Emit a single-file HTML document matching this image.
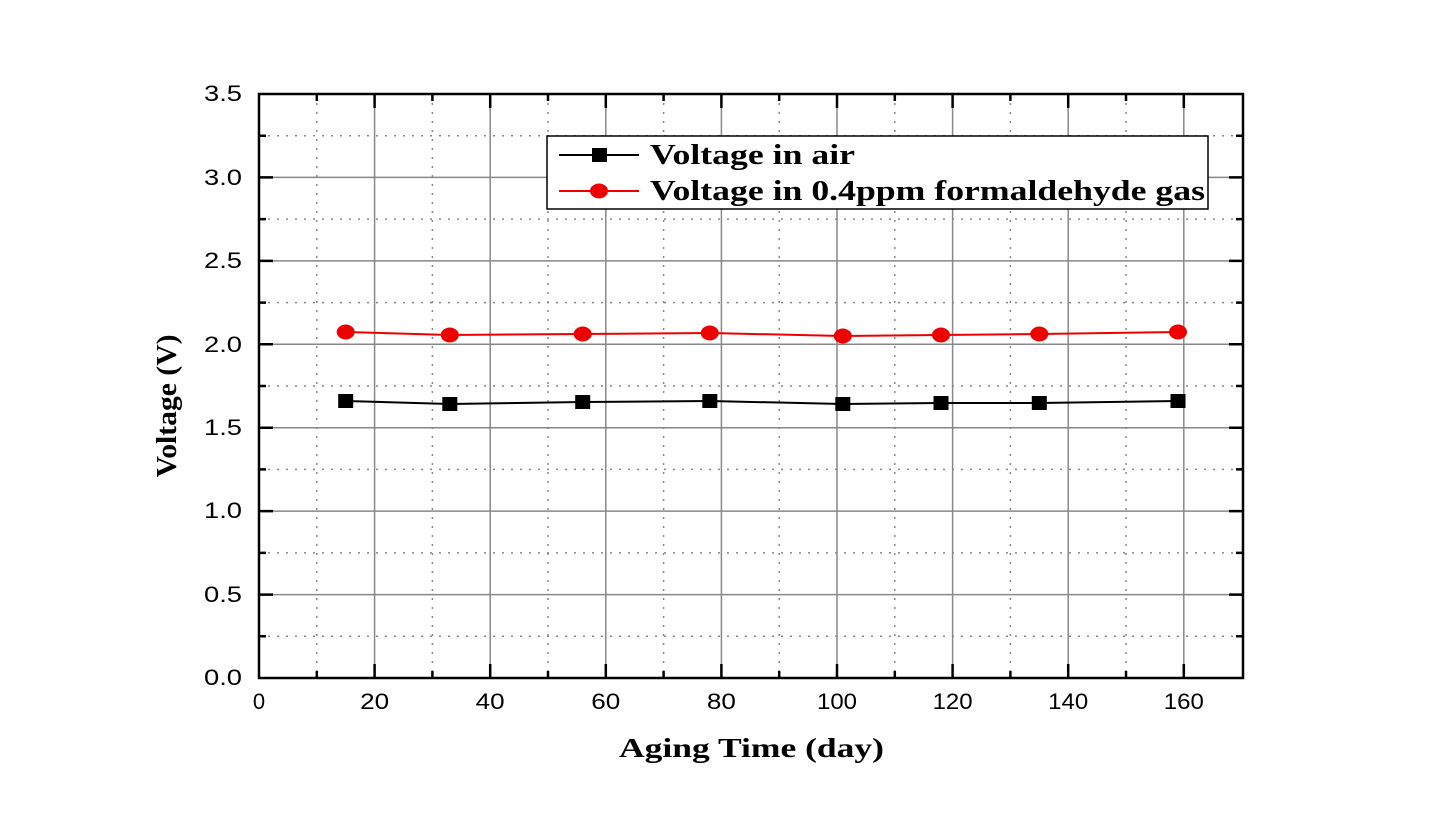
<!DOCTYPE html>
<html><head><meta charset="utf-8"><style>body{margin:0;background:#fff}</style></head><body>
<svg width="1444" height="814" xmlns="http://www.w3.org/2000/svg" font-family="Liberation Sans, sans-serif">
<rect width="1444" height="814" fill="#fff"/>
<g stroke="#888" stroke-width="1.5" stroke-dasharray="2,7">
<line x1="316.8" y1="94" x2="316.8" y2="678"/><line x1="432.4" y1="94" x2="432.4" y2="678"/><line x1="548" y1="94" x2="548" y2="678"/><line x1="663.6" y1="94" x2="663.6" y2="678"/><line x1="779.2" y1="94" x2="779.2" y2="678"/><line x1="894.8" y1="94" x2="894.8" y2="678"/><line x1="1010.4" y1="94" x2="1010.4" y2="678"/><line x1="1126" y1="94" x2="1126" y2="678"/>
<line x1="259" y1="636.3" x2="1243" y2="636.3"/><line x1="259" y1="552.9" x2="1243" y2="552.9"/><line x1="259" y1="469.4" x2="1243" y2="469.4"/><line x1="259" y1="386" x2="1243" y2="386"/><line x1="259" y1="302.6" x2="1243" y2="302.6"/><line x1="259" y1="219.1" x2="1243" y2="219.1"/><line x1="259" y1="135.7" x2="1243" y2="135.7"/>
</g>
<g stroke="#888" stroke-width="1.5">
<line x1="374.6" y1="94" x2="374.6" y2="678"/><line x1="490.2" y1="94" x2="490.2" y2="678"/><line x1="605.8" y1="94" x2="605.8" y2="678"/><line x1="721.4" y1="94" x2="721.4" y2="678"/><line x1="837" y1="94" x2="837" y2="678"/><line x1="952.6" y1="94" x2="952.6" y2="678"/><line x1="1068.2" y1="94" x2="1068.2" y2="678"/><line x1="1183.8" y1="94" x2="1183.8" y2="678"/>
<line x1="259" y1="594.6" x2="1243" y2="594.6"/><line x1="259" y1="511.1" x2="1243" y2="511.1"/><line x1="259" y1="427.7" x2="1243" y2="427.7"/><line x1="259" y1="344.3" x2="1243" y2="344.3"/><line x1="259" y1="260.9" x2="1243" y2="260.9"/><line x1="259" y1="177.4" x2="1243" y2="177.4"/>
</g>
<rect x="259" y="94" width="984" height="584" fill="none" stroke="#000" stroke-width="2.5"/>
<g stroke="#000" stroke-width="2.5">
<path d="M374.6 678v-14M490.2 678v-14M605.8 678v-14M721.4 678v-14M837 678v-14M952.6 678v-14M1068.2 678v-14M1183.8 678v-14
M374.6 94v14M490.2 94v14M605.8 94v14M721.4 94v14M837 94v14M952.6 94v14M1068.2 94v14M1183.8 94v14
M316.8 678v-7M432.4 678v-7M548 678v-7M663.6 678v-7M779.2 678v-7M894.8 678v-7M1010.4 678v-7M1126 678v-7
M316.8 94v7M432.4 94v7M548 94v7M663.6 94v7M779.2 94v7M894.8 94v7M1010.4 94v7M1126 94v7
M259 594.6h14M259 511.1h14M259 427.7h14M259 344.3h14M259 260.9h14M259 177.4h14
M1243 594.6h-14M1243 511.1h-14M1243 427.7h-14M1243 344.3h-14M1243 260.9h-14M1243 177.4h-14
M259 636.3h7M259 552.9h7M259 469.4h7M259 386h7M259 302.6h7M259 219.1h7M259 135.7h7
M1243 636.3h-7M1243 552.9h-7M1243 469.4h-7M1243 386h-7M1243 302.6h-7M1243 219.1h-7M1243 135.7h-7"/>
</g>
<g font-size="22" text-anchor="end">
<text x="242" y="685" textLength="38" lengthAdjust="spacingAndGlyphs">0.0</text><text x="242" y="602" textLength="38" lengthAdjust="spacingAndGlyphs">0.5</text><text x="242" y="518" textLength="38" lengthAdjust="spacingAndGlyphs">1.0</text><text x="242" y="435" textLength="38" lengthAdjust="spacingAndGlyphs">1.5</text><text x="242" y="352" textLength="38" lengthAdjust="spacingAndGlyphs">2.0</text><text x="242" y="268" textLength="38" lengthAdjust="spacingAndGlyphs">2.5</text><text x="242" y="185" textLength="38" lengthAdjust="spacingAndGlyphs">3.0</text><text x="242" y="101" textLength="38" lengthAdjust="spacingAndGlyphs">3.5</text>
</g>
<g font-size="22" text-anchor="middle">
<text x="259" y="709">0</text><text x="374.6" y="709" textLength="29" lengthAdjust="spacingAndGlyphs">20</text><text x="490.2" y="709" textLength="29" lengthAdjust="spacingAndGlyphs">40</text><text x="605.8" y="709" textLength="29" lengthAdjust="spacingAndGlyphs">60</text><text x="721.4" y="709" textLength="29" lengthAdjust="spacingAndGlyphs">80</text><text x="837" y="709" textLength="40" lengthAdjust="spacingAndGlyphs">100</text><text x="952.6" y="709" textLength="40" lengthAdjust="spacingAndGlyphs">120</text><text x="1068.2" y="709" textLength="40" lengthAdjust="spacingAndGlyphs">140</text><text x="1183.8" y="709" textLength="40" lengthAdjust="spacingAndGlyphs">160</text>
</g>
<text x="619" y="757" font-family="Liberation Serif, serif" font-weight="bold" font-size="27" textLength="265" lengthAdjust="spacingAndGlyphs">Aging Time (day)</text>
<text transform="translate(176,406) rotate(-90)" font-family="Liberation Serif, serif" font-weight="bold" font-size="28" text-anchor="middle" textLength="143" lengthAdjust="spacingAndGlyphs">Voltage (V)</text>
<polyline fill="none" stroke="#e00" stroke-width="2" points="345.7,332 449.8,335 582.7,334 709.8,333 842.8,336 941,335 1039.3,334 1178,332"/>
<g fill="#e00"><ellipse cx="345.7" cy="332" rx="9" ry="7.5"/><ellipse cx="449.8" cy="335" rx="9" ry="7.5"/><ellipse cx="582.7" cy="334" rx="9" ry="7.5"/><ellipse cx="709.8" cy="333" rx="9" ry="7.5"/><ellipse cx="842.8" cy="336" rx="9" ry="7.5"/><ellipse cx="941" cy="335" rx="9" ry="7.5"/><ellipse cx="1039.3" cy="334" rx="9" ry="7.5"/><ellipse cx="1178" cy="332" rx="9" ry="7.5"/></g>
<polyline fill="none" stroke="#000" stroke-width="2" points="345.7,401 449.8,404 582.7,402 709.8,401 842.8,404 941,403 1039.3,403 1178,401"/>
<g fill="#000"><rect x="338.2" y="394" width="15" height="14"/><rect x="442.3" y="397" width="15" height="14"/><rect x="575.2" y="395" width="15" height="14"/><rect x="702.3" y="394" width="15" height="14"/><rect x="835.3" y="397" width="15" height="14"/><rect x="933.5" y="396" width="15" height="14"/><rect x="1031.8" y="396" width="15" height="14"/><rect x="1170.5" y="394" width="15" height="14"/></g>
<rect x="547" y="136" width="661" height="73" fill="#fff" stroke="#000" stroke-width="1.5"/>
<line x1="559" y1="155" x2="639" y2="155" stroke="#000" stroke-width="2"/>
<rect x="592" y="148" width="15" height="14" fill="#000"/>
<line x1="559" y1="191" x2="639" y2="191" stroke="#e00" stroke-width="2"/>
<ellipse cx="599" cy="191" rx="9" ry="7.5" fill="#e00"/>
<g font-family="Liberation Serif, serif" font-weight="bold" font-size="28">
<text x="650" y="164" textLength="205" lengthAdjust="spacingAndGlyphs">Voltage in air</text>
<text x="650" y="200" textLength="555" lengthAdjust="spacingAndGlyphs">Voltage in 0.4ppm formaldehyde gas</text>
</g>
</svg>
</body></html>
